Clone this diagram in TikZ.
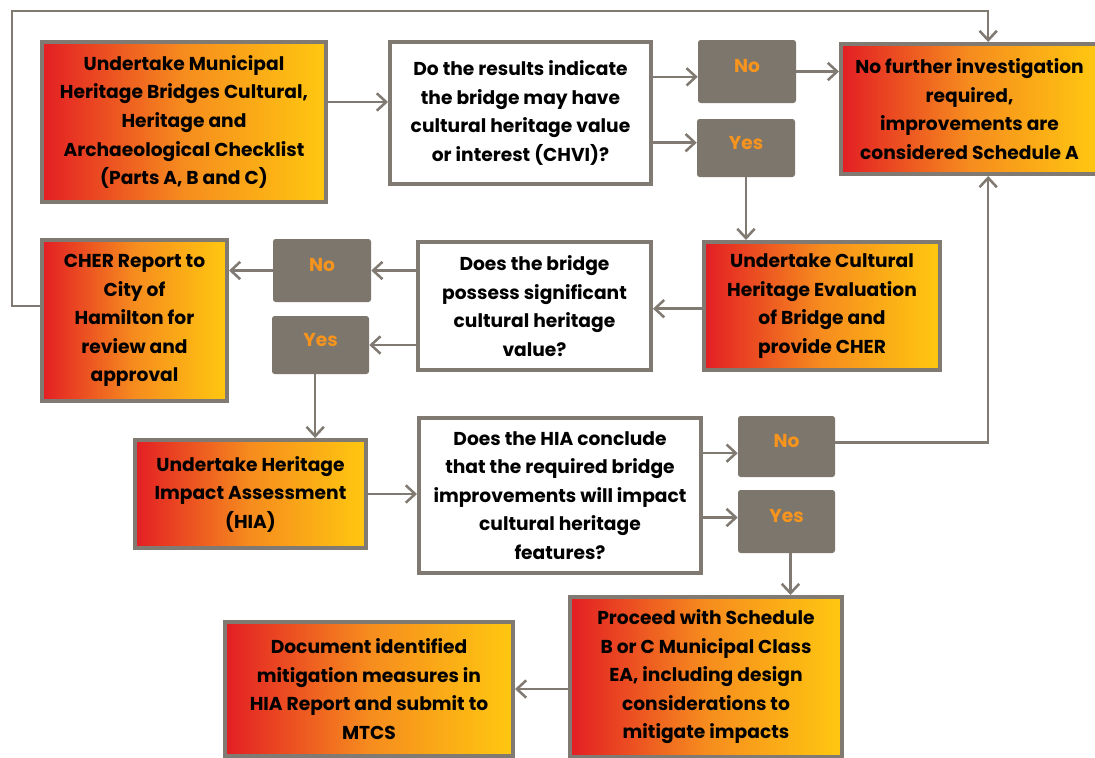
\documentclass[tikz,border=0pt]{standalone}
\usepackage{fontspec}
\setmainfont{Poppins}
\usetikzlibrary{arrows.meta}
\definecolor{frameGray}{RGB}{128,122,114}
\definecolor{answerGray}{RGB}{125,118,108}
\definecolor{answerOrange}{RGB}{247,148,29}
\definecolor{heritageRed}{RGB}{227,30,36}
\definecolor{heritageOrange}{RGB}{246,140,30}
\definecolor{heritageYellow}{RGB}{255,200,16}
\newcommand{\boxFont}{\bfseries\fontsize{14}{21.4}\selectfont}
\tikzset{boxSize/.style 2 args={minimum width=#1*0.75pt,minimum height=#2*0.75pt}}

\begin{document}
\begin{tikzpicture}[%%
  x=0.75pt,y=-0.75pt,%%
  arrowDecorate/.style={-{Straight Barb[length=7pt,width=13pt]},line width=1.9pt,draw=frameGray},%%
  actionDecorate/.style={%%
    draw=frameGray,line width=3pt,left color=heritageRed,right color=heritageYellow,%%
    middle color=heritageOrange,align=center,font=\boxFont,inner sep=0pt%%
  },%%
  questionDecorate/.style={draw=frameGray,line width=3pt,fill=white,align=center,font=\boxFont,inner sep=0pt},%%
  answerDecorate/.style={%%
    fill=answerGray,rounded corners=2pt,text=answerOrange,font=\boxFont,%%
    text depth=8pt,inner sep=0pt%%
  }%%
]
%%
%% Page frame.
\clip (0,0) rectangle (1095,757);
\fill[white] (0,0) rectangle (1095,757);
%%
%% First row.
\node[actionDecorate,boxSize={284}{160}] (checklist) at (184,122)
  {Undertake Municipal\\Heritage Bridges Cultural,\\Heritage and\\Archaeological Checklist\\(Parts A, B and C)};
\node[questionDecorate,boxSize={261}{142}] (q1) at (520.5,113)
  {Do the results indicate\\the bridge may have\\cultural heritage value\\or interest (CHVI)?};
\node[answerDecorate,boxSize={98}{63}] (no1) at (747,71.5) {No};
\node[answerDecorate,boxSize={98}{58}] (yes1) at (746,148) {Yes};
\node[actionDecorate,boxSize={257}{130}] (noFurther) at (969.5,109)
  {No further investigation\\required,\\improvements are\\considered Schedule A};
%%
%% Second row.
\node[actionDecorate,boxSize={236}{128}] (che) at (822,306)
  {Undertake Cultural\\Heritage Evaluation\\of Bridge and\\provide CHER};
\node[questionDecorate,boxSize={233}{128}] (q2) at (534.5,306)
  {Does the bridge\\possess significant\\cultural heritage\\value?};
\node[answerDecorate,boxSize={98}{63}] (no2) at (322,270.5) {No};
\node[answerDecorate,boxSize={97}{58}] (yes2) at (320.5,345) {Yes};
\node[actionDecorate,boxSize={185}{161}] (cher) at (134.5,320.5)
  {CHER Report to\\City of\\Hamilton for\\review and\\approval};
%%
%% Third row.
\node[actionDecorate,boxSize={231}{108}] (hia) at (250.5,494)
  {Undertake Heritage\\Impact Assessment\\(HIA)};
\node[questionDecorate,boxSize={282}{155}] (q3) at (560,495.5)
  {Does the HIA conclude\\that the required bridge\\improvements will impact\\cultural heritage\\features?};
\node[answerDecorate,boxSize={97}{61}] (no3) at (786.5,446.5) {No};
\node[answerDecorate,boxSize={97}{63}] (yes3) at (786.5,521.5) {Yes};
%%
%% Last row.
\node[actionDecorate,boxSize={272}{160}] (proceed) at (706,677)
  {Proceed with Schedule\\B or C Municipal Class\\EA, including design\\considerations to\\mitigate impacts};
\node[actionDecorate,boxSize={288}{134}] (document) at (369,689)
  {Document identified\\mitigation measures in\\HIA Report and submit to\\MTCS};
%%
%% Connectors.
\coordinate (checkOut) at ([yshift=15pt]checklist.east);
\coordinate (loopCorner) at (12,11);
\draw[arrowDecorate] (checkOut) -- (checkOut -| q1.west);
\draw[arrowDecorate] ([yshift=-4pt]no1.west -| q1.east) -- ([yshift=-4pt]no1.west);
\draw[arrowDecorate] ([yshift=4pt]yes1.west -| q1.east) -- ([yshift=4pt]yes1.west);
\draw[arrowDecorate] (no1.east) -- (no1.east -| noFurther.west);
\draw[arrowDecorate] (yes1.south) -- (yes1.south |- che.north);
\draw[arrowDecorate] ([yshift=-2pt]che.west) -- ([yshift=-2pt]che.west -| q2.east);
\draw[arrowDecorate] (no2.east -| q2.west) -- (no2.east);
\draw[arrowDecorate] (yes2.east -| q2.west) -- (yes2.east);
\draw[arrowDecorate] (no2.west) -- (no2.west -| cher.east);
\draw[arrowDecorate] ([xshift=-4pt]yes2.south) -- ([xshift=-4pt]yes2.south |- hia.north);
\draw[arrowDecorate] ([yshift=11pt]cher.west) -| (loopCorner) -| ([xshift=14pt]noFurther.north);
\draw[arrowDecorate] (hia.east) -- (hia.east -| q3.west);
\draw[arrowDecorate] ([yshift=-5pt]no3.west -| q3.east) -- ([yshift=-5pt]no3.west);
\draw[arrowDecorate] ([yshift=3pt]yes3.west -| q3.east) -- ([yshift=3pt]yes3.west);
\draw[arrowDecorate] ([yshift=3pt]no3.east) -| ([xshift=14pt]noFurther.south);
\draw[arrowDecorate] ([xshift=3pt]yes3.south) -- ([xshift=3pt]yes3.south |- proceed.north);
\draw[arrowDecorate] (document.east -| proceed.west) -- (document.east);
\end{tikzpicture}
\end{document}
